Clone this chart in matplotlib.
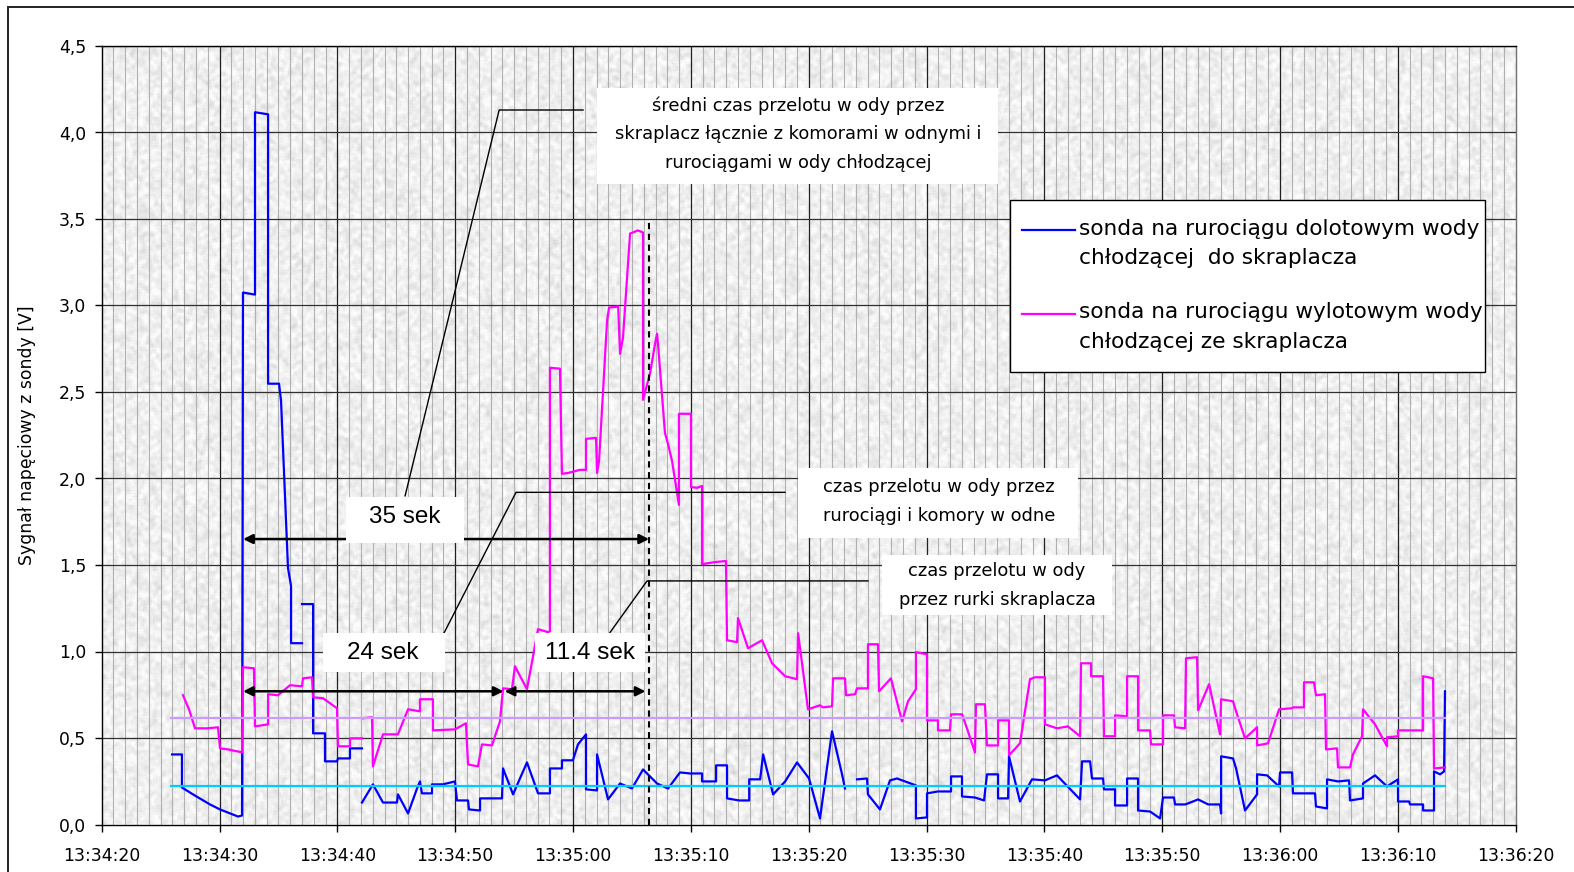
import numpy as np
import matplotlib
matplotlib.use("Agg")
import matplotlib.pyplot as plt
from matplotlib.patches import Rectangle
from matplotlib.lines import Line2D

nan = float("nan")

# Time in seconds after 13:34:20, probe signal in volts (nan = no reading)
t_inlet = [5.97, 6.81, 6.81, 7.75, 9.19, 10.04, 10.89, 11.57, 11.91, 11.99,
           13.01, 13.01, 14.12, 14.12, 15.05, 15.22, 15.81, 16.07, 16.07, 17.0,
           17.0,
           17.0, 17.94, 17.94, 18.95, 18.95, 19.97, 20.05, 21.07, 21.07, 22.09,
           22.09,
           22.09, 23.02, 23.87, 25.06, 25.14, 26.0, 26.76, 27.01, 27.18, 28.03,
           28.03, 28.96, 29.98, 30.15, 31.09, 31.17, 32.11, 32.11, 33.97, 34.06,
           34.91, 36.09, 37.03, 38.04, 38.04, 39.06, 39.06, 39.99, 40.42, 41.1,
           41.1, 42.04, 42.04, 42.97, 43.99, 45.0, 45.94, 47.13, 48.06, 49.08,
           49.93, 50.95, 50.95, 52.14, 52.14, 53.07, 53.07, 54.09, 54.95, 54.95,
           55.88, 56.13, 56.98, 58.0, 59.01, 60.03, 60.96, 61.98, 62.83, 63.08,
           63.6,
           64.1, 64.95, 65.03, 66.05, 66.9, 67.49, 68.17, 69.1, 69.1, 70.04,
           70.04, 70.97, 72.08, 72.08, 73.01, 73.01, 74.11, 74.88, 75.13, 76.07,
           76.07, 76.92, 77.0, 77.93, 78.95, 80.05, 81.07, 83.03, 83.2, 83.88,
           84.04, 84.98, 85.06, 86.0, 86.0, 87.02, 87.02, 87.95, 87.95, 88.97,
           89.82, 90.07, 91.0, 91.09, 91.94, 92.2, 93.05, 93.9, 94.91, 95.0,
           95.0, 96.01, 96.27, 97.03, 98.05, 98.05, 98.9, 99.92, 100.0, 101.02,
           101.1, 102.97, 103.05, 103.99, 103.99, 104.92, 105.86, 105.94, 107.04, 107.04,
           108.06, 109.08, 110.01, 110.01, 110.95, 111.03, 112.14, 112.14, 113.07, 113.07,
           113.58, 113.92, 114.0]
v_inlet = [0.405, 0.405, 0.214, 0.174, 0.116, 0.087, 0.064, 0.046, 0.052, 3.075,
           3.063, 4.117, 4.105, 2.548, 2.548, 2.449, 1.482, 1.378, 1.048, 1.048,
           nan,
           1.274, 1.274, 0.527, 0.527, 0.365, 0.365, 0.382, 0.382, 0.44, 0.44,
           nan,
           0.127, 0.232, 0.127, 0.127, 0.174, 0.064, 0.208, 0.249, 0.18, 0.18,
           0.232, 0.232, 0.249, 0.139, 0.139, 0.087, 0.081, 0.151, 0.151, 0.324,
           0.174, 0.359, 0.18, 0.18, 0.324, 0.324, 0.371, 0.371, 0.463, 0.521,
           0.203, 0.197, 0.405, 0.145, 0.237, 0.208, 0.318, 0.237, 0.208, 0.301,
           0.295, 0.295, 0.249, 0.249, 0.342, 0.342, 0.151, 0.139, 0.139, 0.261,
           0.261, 0.405, 0.174, 0.249, 0.359, 0.266, 0.035, 0.539, 0.29, 0.208,
           nan,
           0.261, 0.266, 0.174, 0.087, 0.255, 0.266, 0.249, 0.226, 0.035, 0.041,
           0.18, 0.191, 0.191, 0.278, 0.278, 0.162, 0.156, 0.139, 0.29, 0.29,
           0.151, 0.151, 0.394, 0.133, 0.261, 0.255, 0.284, 0.145, 0.365, 0.365,
           0.266, 0.266, 0.203, 0.203, 0.11, 0.11, 0.266, 0.266, 0.081, 0.075,
           0.035, 0.156, 0.156, 0.116, 0.116, 0.122, 0.145, 0.116, 0.116, 0.064,
           0.394, 0.382, 0.324, 0.081, 0.174, 0.29, 0.284, 0.22, 0.301, 0.301,
           0.18, 0.18, 0.104, 0.093, 0.261, 0.249, 0.255, 0.139, 0.151, 0.237,
           0.284, 0.22, 0.261, 0.133, 0.133, 0.116, 0.116, 0.081, 0.081, 0.307,
           0.29, 0.307, 0.77]

t_outlet = [6.9, 7.41, 7.92, 8.94, 9.87, 10.04, 10.72, 11.91, 11.99, 12.92,
            13.01, 14.12, 14.12, 14.96, 15.98, 17.0, 17.08, 17.85, 17.94, 18.78,
            19.97, 20.05, 21.07, 21.07, 22.09,
            22.12,
            22.17, 22.94, 23.02, 23.87, 25.14, 26.0, 27.01, 27.01, 28.11, 28.11,
            29.98, 30.91, 31.09, 31.93, 32.27, 33.12, 33.8, 34.06, 34.82, 35.07,
            36.09, 37.03, 37.88, 38.04, 38.04, 38.89, 39.06, 39.57, 40.59, 41.1,
            41.1, 41.95, 42.04, 42.21, 42.89, 43.06, 43.83, 43.99, 44.24, 44.84,
            45.51, 45.94, 45.94, 46.53, 46.96, 47.13, 47.21, 47.8, 48.06, 48.4,
            48.99, 48.99, 50.01, 50.01, 50.52, 50.95, 50.95, 52.05, 52.98, 53.07,
            53.92, 54.0, 54.85, 56.04, 56.89, 58.0, 59.01, 59.1, 59.94, 60.96,
            61.21, 61.98, 62.07, 63.08, 63.17, 63.93, 64.1, 65.03, 65.03, 65.88,
            65.97, 66.98, 67.92, 68.43, 69.1, 69.1, 70.04, 70.04, 70.97, 70.97,
            71.99, 72.08, 73.01, 73.43, 74.11, 74.2, 74.96, 75.13, 76.07, 76.07,
            77.0, 77.0, 77.93, 78.78, 79.21, 80.05, 80.05, 81.07, 82.0, 83.03,
            83.11, 83.96, 83.96, 84.98, 85.06, 86.0, 86.0, 87.02, 87.02, 87.95,
            87.95, 88.97, 89.05, 90.07, 90.07, 91.0, 91.09, 91.94, 92.02, 92.96,
            93.05, 93.98, 94.48, 94.91, 95.0, 96.01, 96.27, 97.03, 98.05, 98.05,
            98.98, 99.92, 101.02, 101.1, 102.03, 102.03, 102.88, 103.05, 103.82, 103.9,
            104.84, 104.92, 105.94, 106.19, 106.96, 107.04, 107.64, 108.06, 109.08, 109.08,
            110.01, 110.01, 112.14, 112.14, 112.99, 113.07, 114.0]
v_outlet = [0.747, 0.666, 0.556, 0.556, 0.562, 0.44, 0.434, 0.417, 0.909, 0.903,
            0.567, 0.579, 0.753, 0.747, 0.805, 0.799, 0.845, 0.851, 0.735, 0.73,
            0.672, 0.452, 0.452, 0.498, 0.498,
            nan,
            0.614, 0.62, 0.336, 0.521, 0.521, 0.666, 0.654, 0.724, 0.724, 0.544,
            0.55, 0.585, 0.347, 0.336, 0.463, 0.457, 0.596, 0.787, 0.782, 0.915,
            0.782, 1.129, 1.112, 1.118, 2.64, 2.635, 2.027, 2.032, 2.05, 2.05,
            2.229, 2.235, 2.032, 2.102, 2.913, 2.988, 2.994, 2.721, 2.814, 3.416,
            3.434, 3.422, 2.455, 2.606, 2.779, 2.837, 2.779, 2.264, 2.2, 2.102,
            1.847, 2.374, 2.374, 1.951, 1.946, 1.957, 1.505, 1.517, 1.523, 1.065,
            1.054, 1.193, 1.019, 1.065, 0.932, 0.857, 0.84, 1.106, 0.666, 0.689,
            0.677, 0.683, 0.845, 0.845, 0.747, 0.753, 0.787, 0.787, 1.042, 1.042,
            0.77, 0.845, 0.596, 0.712, 0.782, 0.996, 0.984, 0.602, 0.602, 0.544,
            0.544, 0.637, 0.637, 0.556, 0.417, 0.695, 0.695, 0.457, 0.457, 0.602,
            0.602, 0.4, 0.469, 0.84, 0.851, 0.851, 0.579, 0.556, 0.567, 0.51,
            0.932, 0.932, 0.857, 0.857, 0.51, 0.51, 0.631, 0.625, 0.857, 0.857,
            0.544, 0.544, 0.463, 0.463, 0.631, 0.631, 0.562, 0.556, 0.961, 0.967,
            0.66, 0.811, 0.654, 0.521, 0.724, 0.712, 0.654, 0.498, 0.562, 0.457,
            0.469, 0.666, 0.672, 0.677, 0.677, 0.822, 0.822, 0.747, 0.753, 0.434,
            0.44, 0.33, 0.33, 0.405, 0.51, 0.666, 0.614, 0.579, 0.452, 0.504,
            0.51, 0.544, 0.544, 0.857, 0.845, 0.324, 0.33]

# Mean levels of both probes before the tracer passes
baseline_span = [5.9, 114.0]
baseline_inlet = 0.222
baseline_outlet = 0.614

# Characteristic instants (s after 13:34:20)
t_inlet_rise = 12.0
t_outlet_rise = 34.1
t_outlet_peak = 46.45

x_ticks = [0, 10, 20, 30, 40, 50, 60, 70, 80, 90, 100, 110, 120]
x_tick_labels = ["13:34:20", "13:34:30", "13:34:40", "13:34:50", "13:35:00",
                 "13:35:10", "13:35:20", "13:35:30", "13:35:40", "13:35:50",
                 "13:36:00", "13:36:10", "13:36:20"]
y_ticks = [0.0, 0.5, 1.0, 1.5, 2.0, 2.5, 3.0, 3.5, 4.0, 4.5]

legend_labels = ["sonda na rurociągu dolotowym wody\nchłodzącej  do skraplacza",
                 "sonda na rurociągu wylotowym wody\nchłodzącej ze skraplacza"]
note_total = "średni czas przelotu w ody przez\nskraplacz łącznie z komorami w odnymi i\nrurociągami w ody chłodzącej"
note_pipes = "czas przelotu w ody przez\nrurociągi i komory w odne"
note_tubes = "czas przelotu w ody\nprzez rurki skraplacza"
span_labels = ["35 sek", "24 sek", "11.4 sek"]

BLUE = "#0000ff"
PINK = "#ff00ff"
LAVENDER = "#cc99ff"
CYAN = "#00ccff"

plt.rcParams["font.family"] = ["DejaVu Sans"]

W, H = 1574, 872
fig = plt.figure(figsize=(W / 100, H / 100), dpi=100)
fig.patch.set_facecolor("white")


def px(x, y):
    return x / W, 1 - y / H


ax = fig.add_axes([101.7 / W, 1 - 824.5 / H, 1414 / W, 778.5 / H])
ax.set_xlim(0, 120)
ax.set_ylim(0, 4.5)

# grainy paper-like fill of the plot area
rng = np.random.default_rng(11)
noise = rng.normal(size=(520, 940))
k = np.zeros_like(noise)
for dy in (-1, 0, 1):
    for dx in (-1, 0, 1):
        k += np.roll(np.roll(noise, dy, 0), dx, 1)
k /= k.std()
tex = np.clip(0.94 - 0.028 * k, 0.80, 0.99)
ax.imshow(tex, cmap="gray", vmin=0, vmax=1, extent=[0, 1, 0, 1],
          transform=ax.transAxes, aspect="auto", interpolation="bilinear", zorder=0)

# grid
for s in range(1, 120):
    if s % 10:
        ax.axvline(s, color="#b0b0b0", lw=0.8, zorder=0.5)
for s in x_ticks[1:-1]:
    ax.axvline(s, color="#202020", lw=0.9, zorder=0.6)
for v in y_ticks[1:]:
    ax.axhline(v, color="#303030", lw=0.9, zorder=0.6)

# probe signals
ax.plot(t_inlet, v_inlet, color=BLUE, lw=1.6, zorder=2, solid_joinstyle="round")
ax.plot(t_outlet, v_outlet, color=PINK, lw=1.6, zorder=2.1, solid_joinstyle="round")
ax.plot(baseline_span, [baseline_outlet] * 2, color=LAVENDER, lw=1.6, zorder=2.2)
ax.plot(baseline_span, [baseline_inlet] * 2, color=CYAN, lw=1.6, zorder=2.3)

# peak marker
ax.plot([t_outlet_peak, t_outlet_peak], [0, 3.5], color="black", lw=1.5,
        ls=(0, (3, 2.2)), zorder=4)

# transit-time arrows
arrow_kw = dict(arrowstyle="<|-|>", color="black", lw=1.8, mutation_scale=14,
                shrinkA=0, shrinkB=0)
ax.annotate("", xy=(t_outlet_peak, 1.65), xytext=(t_inlet_rise, 1.65),
            arrowprops=arrow_kw, zorder=5)
ax.annotate("", xy=(t_outlet_rise, 0.77), xytext=(t_inlet_rise, 0.77),
            arrowprops=arrow_kw, zorder=5)
ax.annotate("", xy=(t_outlet_peak - 0.3, 0.77), xytext=(t_outlet_rise + 0.1, 0.77),
            arrowprops=arrow_kw, zorder=5)

# leader lines from the labels to the notes
lead_kw = dict(color="black", lw=1.0, zorder=5)
ax.plot([25.75, 33.73, 40.85], [1.9, 4.13, 4.13], **lead_kw)
ax.plot([29.0, 35.16, 57.99], [1.1, 1.92, 1.92], **lead_kw)
ax.plot([43.14, 46.28, 65.03], [1.11, 1.408, 1.408], **lead_kw)


def white_box(x0, x1, y0, y1):
    ax.add_patch(Rectangle((x0, y0), x1 - x0, y1 - y0, facecolor="white",
                           edgecolor="none", zorder=6))


white_box(42.04, 76.07, 3.70, 4.257)
white_box(59.09, 82.86, 1.656, 2.061)
white_box(66.22, 85.74, 1.211, 1.558)
white_box(20.73, 30.75, 1.63, 1.893)
white_box(18.78, 29.14, 0.882, 1.107)
white_box(36.77, 46.1, 0.882, 1.107)

note_kw = dict(ha="center", va="center", fontsize=12.9, linespacing=1.78, zorder=7)
ax.text(59.1, 3.99, note_total, **note_kw)
ax.text(71.05, 1.865, note_pipes, **note_kw)
ax.text(75.98, 1.38, note_tubes, **note_kw)

span_kw = dict(ha="center", va="center", fontsize=17.5, family="Liberation Sans",
               zorder=7)
ax.text(25.75, 1.775, span_labels[0], **span_kw)
ax.text(23.87, 0.99, span_labels[1], **span_kw)
ax.text(41.45, 0.99, span_labels[2], **span_kw)

# axes styling
ax.set_xticks(x_ticks)
ax.set_xticklabels(x_tick_labels)
ax.set_yticks(y_ticks)
ax.set_yticklabels([f"{v:.1f}".replace(".", ",") for v in y_ticks])
ax.tick_params(axis="both", direction="out", length=5, width=1, color="black",
               labelsize=12.4)
ax.tick_params(axis="x", pad=11)
ax.tick_params(axis="y", pad=6)
for name, sp in ax.spines.items():
    sp.set_color("black" if name != "right" else "#707070")
    sp.set_linewidth(1.0)
    sp.set_zorder(8)

fig.text(*px(27, 435), "Sygnał napęciowy z sondy [V]", rotation=90,
         ha="center", va="center", fontsize=12.4)

# legend
lx0, ly0, lx1, ly1 = 1010, 200, 1485, 372
fig.add_artist(Rectangle(px(lx0, ly1), (lx1 - lx0) / W, (ly1 - ly0) / H,
                         transform=fig.transFigure, facecolor="white",
                         edgecolor="black", lw=1.0, zorder=9))
for color, label, yl, yt in [(BLUE, legend_labels[0], 230, 243.5),
                             (PINK, legend_labels[1], 314, 327)]:
    fig.add_artist(Line2D([1022 / W, 1075 / W], [1 - yl / H] * 2, color=color,
                          lw=1.6, transform=fig.transFigure, zorder=10))
    fig.text(*px(1079, yt), label, ha="left", va="center", fontsize=15.6,
             linespacing=1.62, zorder=10)

# outer frame
fig.add_artist(Rectangle((8 / W, -0.1), 2.0, 1 - 7 / H + 0.1,
                         transform=fig.transFigure, fill=False,
                         edgecolor="#222222", lw=1.4))

fig.savefig("out.png", dpi=100, facecolor="white")
